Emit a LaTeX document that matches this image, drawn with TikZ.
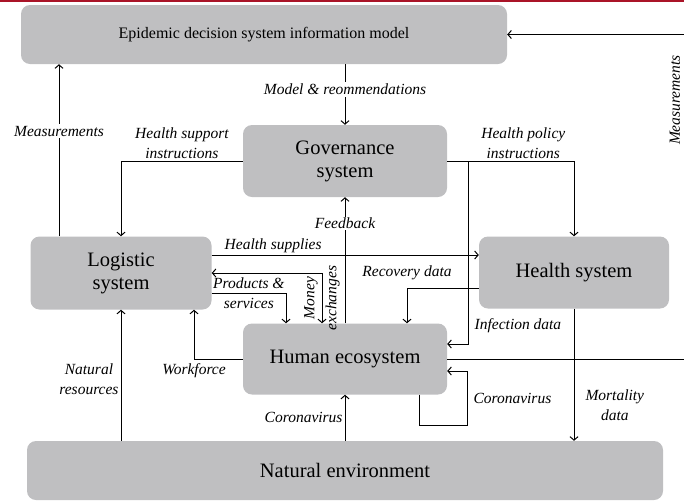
\documentclass[tikz,border=0pt]{standalone}
\usepackage{fontspec}
\setmainfont{Liberation Serif}
\usepackage{tikz}
\usepackage{xcolor}
\usetikzlibrary{arrows.meta}

\definecolor{boxgray}{RGB}{191,191,193}
\definecolor{headred}{RGB}{170,20,40}

\begin{document}
\begin{tikzpicture}[x=1pt,y=-1pt]
        \useasboundingbox (0,0) rectangle (684,501);
        \draw[headred, line width=2pt] (0,1.2) -- (684,1.2);

        \begin{scope}[every node/.style = {rectangle, rounded corners=9pt, fill=boxgray, align=center,
                inner sep=0pt, font=\fontsize{20.5}{23}\selectfont}]
            \node[minimum width=486pt, minimum height=59pt, font=\fontsize{16}{19}\selectfont] (E) at (264, 34.5) {Epidemic decision system information model};
            \node[minimum width=204pt, minimum height=72pt] (G) at (345, 161)   {Governance\\system};
            \node[minimum width=181pt, minimum height=73pt] (L) at (121, 273)   {Logistic\\system};
            \node[minimum width=190pt, minimum height=72pt] (H) at (574, 272.5) {Health system};
            \node[minimum width=204pt, minimum height=71pt] (B) at (345, 359)   {Human ecosystem};
            \node[minimum width=636pt, minimum height=59pt] (N) at (345, 470.5) {Natural environment};
        \end{scope}

        \begin{scope}[>={Straight Barb[length=3.5pt,width=8pt]}, line width=1pt,
                every node/.style={font=\itshape\fontsize{15.5}{19.5}\selectfont, align=center, inner sep=2pt}]
                \coordinate (ms) at ([xshift=-62pt]L.north);
                \coordinate (inf) at ([xshift=21pt]G.east);
                \coordinate (hs) at ([yshift=18pt]L.east);
                \coordinate (cv) at ([xshift=74pt]B.south);
                \coordinate (rb) at ([xshift=245pt]B.east);

                \draw[->] (ms) -- (ms |- E.south) node[pos=0.61, fill=white] {Measurements};
                \draw[->] (E.south -| G.north) -- (G.north) node[midway, yshift=5pt, fill=white] {Model \& reommendations};
                \draw[->] (G.west) -| (L.north) node[pos=0.25, above] {Health support\\instructions};
                \draw[->] (G.east) -| (H.north) node[pos=0.3, above] {Health policy\\instructions};
                \draw[->] (inf) |- ([yshift=15pt]B.east) node[pos=0.45, right=4pt] {Infection data};
                \draw[->] (hs) -- (hs -| H.west) node[pos=0.23, above] {Health supplies};
                \draw[<->] (L.east) -| ([xshift=-23pt]B.north) node[pos=0.75, rotate=90, font=\itshape\fontsize{15.5}{22}\selectfont] {Money\\exchanges};
                \draw[->] ([yshift=-20pt]L.east) -| ([xshift=-59pt]B.north) node[pos=0.25] {Products \&\\services};
                \draw[->] (B.west) -| ([xshift=73pt]L.south) node[pos=0.5, below=2pt] {Workforce};
                \draw[->] (N.north -| L.south) -- (L.south) node[pos=0.47, left] {Natural\\resources};
                \draw[->] (N.north) -- (B.south) node[midway, left] {Coronavirus};
                \draw[->] (cv) |- ++(48,31) |- ([yshift=-12pt]B.east) node[pos=0.25, right=4pt] {Coronavirus};
                \draw[->] ([yshift=-16pt]H.west) -| ([xshift=62pt]B.north) node[pos=0.5, above=6pt] {Recovery data};
                \draw[->] (H.south) -- (H.south |- N.north) node[pos=0.73, right=9pt] {Mortality\\data};
                \draw[->] (B.north) -- (G.south) node[pos=0.79, fill=white, inner sep=1pt] {Feedback};
                \draw[->] (B.east) -- (rb) |- (E.east);
                \node[rotate=90] (mr) at (675, 100) {Measurements};
        \end{scope}
    \end{tikzpicture}
\end{document}
